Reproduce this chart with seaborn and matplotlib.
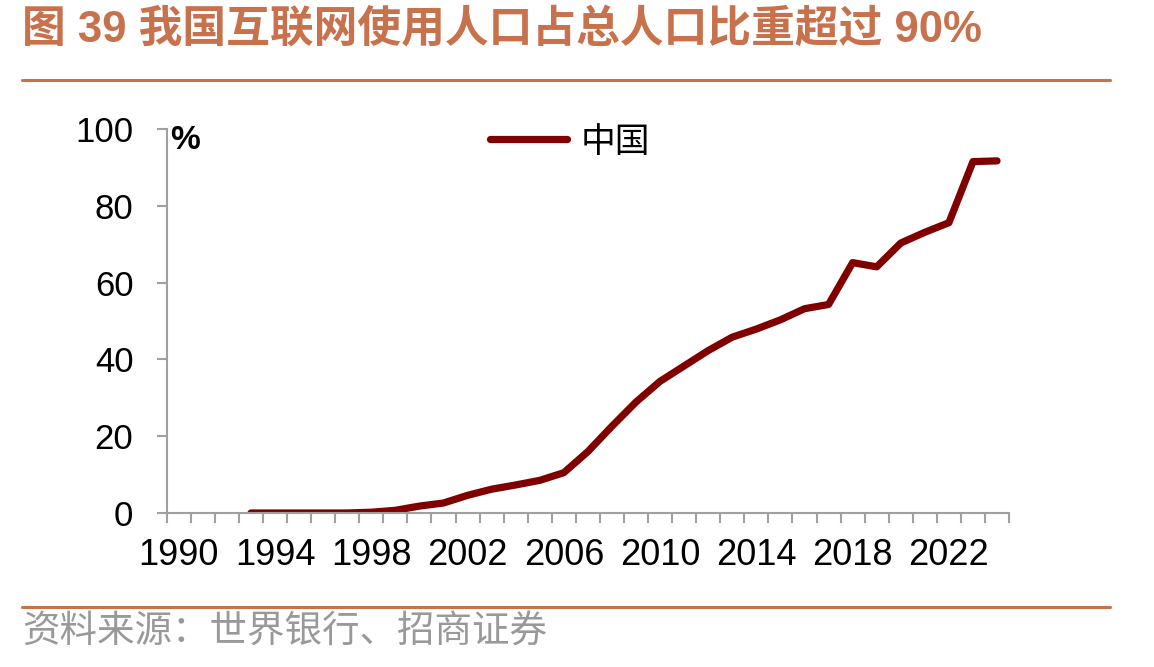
import numpy as np
import pandas as pd
import seaborn as sns
import matplotlib.pyplot as plt
from matplotlib.lines import Line2D
from matplotlib.ticker import FixedLocator

# China: individuals using the internet (% of population)
years = list(range(1993, 2025))
share = [0.0, 0.0, 0.0, 0.0, 0.0, 0.2, 0.7, 1.8, 2.6, 4.6,
         6.2, 7.3, 8.5, 10.5, 16.0, 22.6, 28.9, 34.3, 38.3, 42.3,
         45.8, 47.9, 50.3, 53.2, 54.3, 65.2, 64.1, 70.3, 73.1, 75.6,
         91.5, 91.7]
series_name = '中国'
tick_years = [1990, 1994, 1998, 2002, 2006, 2010, 2014, 2018, 2022]
y_ticks = [0, 20, 40, 60, 80, 100]
title = '图 39 我国互联网使用人口占总人口比重超过 90%'
source = '资料来源：世界银行、招商证券'

df = pd.DataFrame({'year': years, 'share': share, 'name': series_name})

sns.set_theme(style='white')
plt.rcParams['font.family'] = ['Liberation Sans', 'Noto Sans CJK SC', 'DejaVu Sans']
plt.rcParams['text.color'] = 'black'

accent = '#C8714D'
axis_gray = '#A0A0A0'

fig = plt.figure(figsize=(11.54, 6.67), dpi=100)
ax = fig.add_axes([0.1445, 0.2309, 0.7299, 0.5757])

sns.lineplot(data=df, x='year', y='share', hue='name', palette=['#800000'],
             linewidth=5.2, ax=ax, solid_capstyle='round', solid_joinstyle='round')

ax.set_xlim(1989.5, 2024.5)
ax.set_ylim(0, 100)
ax.set_xlabel('')
ax.set_ylabel('')

ax.set_xticks(tick_years)
ax.set_xticklabels([str(y) for y in tick_years], fontsize=26, color='black')
ax.xaxis.set_minor_locator(FixedLocator(np.arange(1989.5, 2025, 1.0)))
ax.tick_params(axis='x', which='major', length=0, pad=18)
ax.tick_params(axis='x', which='minor', length=7, width=1.5, color=axis_gray, bottom=True)

ax.set_yticks(y_ticks)
ax.set_yticklabels([str(v) for v in y_ticks], fontsize=25, color='black')
ax.tick_params(axis='y', length=7, width=1.5, color=axis_gray, left=True, pad=17)

for side in ['top', 'right']:
    ax.spines[side].set_visible(False)
for side in ['left', 'bottom']:
    ax.spines[side].set_color(axis_gray)
    ax.spines[side].set_linewidth(1.5)

ax.text(0.004, 0.97, '%', transform=ax.transAxes, fontsize=24, fontweight='bold',
        ha='left', va='center', color='black')

leg = ax.legend(loc='center left', bbox_to_anchor=(0.384, 0.966), frameon=False,
                fontsize=25, handlelength=2.2, handletextpad=0.4,
                borderpad=0, borderaxespad=0)
for h in leg.get_lines():
    h.set_linewidth(5.2)
for t in leg.get_texts():
    t.set_color('black')

fig.text(0.019, 0.955, title, fontsize=31.5, fontweight='bold', color=accent,
         ha='left', va='center')
fig.add_artist(Line2D([0.019, 0.962], [0.880, 0.880], transform=fig.transFigure,
                      color=accent, linewidth=2.2))
fig.add_artist(Line2D([0.019, 0.962], [0.090, 0.090], transform=fig.transFigure,
                      color=accent, linewidth=2.2))
fig.text(0.019, 0.051, source, fontsize=27, color='#999999', ha='left', va='center')

fig.savefig('out.png', dpi=100)
